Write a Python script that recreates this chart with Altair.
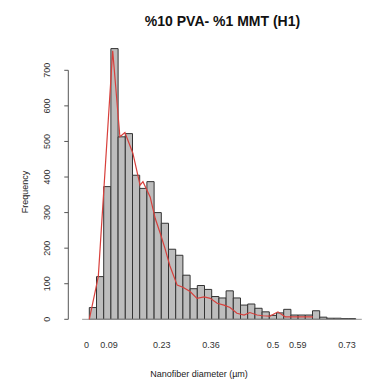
import altair as alt
import pandas as pd

# ---- data ----
bin_left = [0.00, 0.02, 0.04, 0.06, 0.08, 0.10, 0.12, 0.14, 0.16, 0.18,
            0.20, 0.22, 0.24, 0.26, 0.28, 0.30, 0.32, 0.34, 0.36, 0.38,
            0.40, 0.42, 0.44, 0.46, 0.48, 0.50, 0.52, 0.54, 0.56, 0.58,
            0.60, 0.62, 0.64, 0.66, 0.68, 0.70, 0.72]
bin_right = [0.02, 0.04, 0.06, 0.08, 0.10, 0.12, 0.14, 0.16, 0.18, 0.20,
             0.22, 0.24, 0.26, 0.28, 0.30, 0.32, 0.34, 0.36, 0.38, 0.40,
             0.42, 0.44, 0.46, 0.48, 0.50, 0.52, 0.54, 0.56, 0.58, 0.60,
             0.62, 0.64, 0.66, 0.68, 0.70, 0.72, 0.74]
counts = [33, 120, 373, 761, 513, 522, 405, 368, 387, 300,
          270, 197, 180, 124, 86, 95, 84, 64, 60, 80,
          60, 40, 43, 31, 21, 11, 18, 28, 12, 12,
          12, 24, 6, 3, 3, 2, 2]

curve_x = [0.0, 0.025, 0.065, 0.085, 0.099, 0.121, 0.141, 0.149, 0.169, 0.183,
           0.197, 0.21, 0.224, 0.244, 0.26, 0.28, 0.299, 0.319, 0.336, 0.355,
           0.374, 0.391, 0.41, 0.43, 0.446, 0.466, 0.482, 0.502, 0.524, 0.544, 0.621]
curve_y = [0, 120, 755, 513, 525, 467, 377, 387, 344, 284,
           242, 200, 150, 96, 90, 78, 59, 63, 59, 45,
           40, 33, 17, 12, 19, 12, 10, 9, 21, 7, 7]

y_ticks = [0, 100, 200, 300, 400, 500, 600, 700]
x_label_pos = [-0.008, 0.055, 0.201, 0.338, 0.51, 0.579, 0.716]
x_labels = ["0", "0.09", "0.23", "0.36", "0.5", "0.59", "0.73"]

title = "%10 PVA- %1 MMT (H1)"
x_title = "Nanofiber diameter (\u00b5m)"
y_title = "Frequency"

# ---- layout ----
W, H = 357, 372
X0_PX, X_PPU = 81.3, 360.0        # pixel of x=0 and pixels per unit
Y0_PX, Y_PPU = 311.3, 0.35571     # pixel of y=0 and pixels per count
xdom = [-X0_PX / X_PPU, (W - X0_PX) / X_PPU]
ydom = [-(H - Y0_PX) / Y_PPU, Y0_PX / Y_PPU]
xs = alt.Scale(domain=xdom, nice=False, zero=False)
ys = alt.Scale(domain=ydom, nice=False, zero=False)
FONT = "Liberation Sans"
AXIS_X = -0.0583
TICK_X = -0.0695
LABEL_X = -0.1175
LABEL_Y = -72

hist = pd.DataFrame({"x1": bin_left, "x2": bin_right, "n": counts})
curve = pd.DataFrame({"x": curve_x, "y": curve_y})
yt = pd.DataFrame({"v": y_ticks, "lab": [str(v) for v in y_ticks]})
xl = pd.DataFrame({"x": x_label_pos, "lab": x_labels})

bars = alt.Chart(hist).mark_rect(fill="#bdbdbd", stroke="#333333", strokeWidth=1).encode(
    x=alt.X("x1:Q", scale=xs, axis=None),
    x2="x2:Q",
    y=alt.Y("n:Q", scale=ys, axis=None),
    y2=alt.datum(0),
)

base_rule = alt.Chart(pd.DataFrame({"a": [-0.02], "b": [0.757], "y": [0]})).mark_rule(
    color="#999999", strokeWidth=1).encode(
    x=alt.X("a:Q", scale=xs, axis=None), x2="b:Q",
    y=alt.Y("y:Q", scale=ys, axis=None))

line = alt.Chart(curve).mark_line(color="#d8403c", strokeWidth=1.2).encode(
    x=alt.X("x:Q", scale=xs, axis=None),
    y=alt.Y("y:Q", scale=ys, axis=None),
    order="x:Q",
)

yaxis_line = alt.Chart(pd.DataFrame({"x": [AXIS_X], "a": [0], "b": [700]})).mark_rule(
    color="#555555", strokeWidth=1).encode(
    x=alt.X("x:Q", scale=xs, axis=None),
    y=alt.Y("a:Q", scale=ys, axis=None), y2="b:Q")

yaxis_ticks = alt.Chart(yt).mark_rule(color="#555555", strokeWidth=1).encode(
    x=alt.X("t1:Q", scale=xs, axis=None), x2="t2:Q",
    y=alt.Y("v:Q", scale=ys, axis=None),
).transform_calculate(t1=str(TICK_X), t2=str(AXIS_X))

yaxis_labels = alt.Chart(yt).mark_text(font=FONT, fontSize=9, angle=270, color="#333333",
                                       align="center", baseline="middle").encode(
    x=alt.X("lx:Q", scale=xs, axis=None),
    y=alt.Y("v:Q", scale=ys, axis=None),
    text="lab:N",
).transform_calculate(lx=str(LABEL_X))

xaxis_labels = alt.Chart(xl).mark_text(font=FONT, fontSize=9, color="#333333",
                                       align="center", baseline="middle").encode(
    x=alt.X("x:Q", scale=xs, axis=None),
    y=alt.Y("ly:Q", scale=ys, axis=None),
    text="lab:N",
).transform_calculate(ly=str(LABEL_Y))

title_txt = alt.Chart(pd.DataFrame({"t": [title]})).mark_text(
    font=FONT, fontSize=14, fontWeight="bold", color="#111111",
    align="center", baseline="middle").encode(
    x=alt.value(214.5), y=alt.value(14), text="t:N")

xt_txt = alt.Chart(pd.DataFrame({"t": [x_title]})).mark_text(
    font=FONT, fontSize=9, color="#222222", align="center", baseline="middle").encode(
    x=alt.value(191), y=alt.value(366), text="t:N")

yt_txt = alt.Chart(pd.DataFrame({"t": [y_title]})).mark_text(
    font=FONT, fontSize=9, color="#222222", angle=270, align="center", baseline="middle").encode(
    x=alt.value(17), y=alt.value(184), text="t:N")

chart = alt.layer(bars, base_rule, line, yaxis_line, yaxis_ticks, yaxis_labels,
                  xaxis_labels, title_txt, xt_txt, yt_txt).properties(
    width=W, height=H, autosize=alt.AutoSizeParams(type="none"), padding=0
).configure_view(stroke=None)

chart.save("out.html", embed_options={"renderer": "svg", "actions": False})
